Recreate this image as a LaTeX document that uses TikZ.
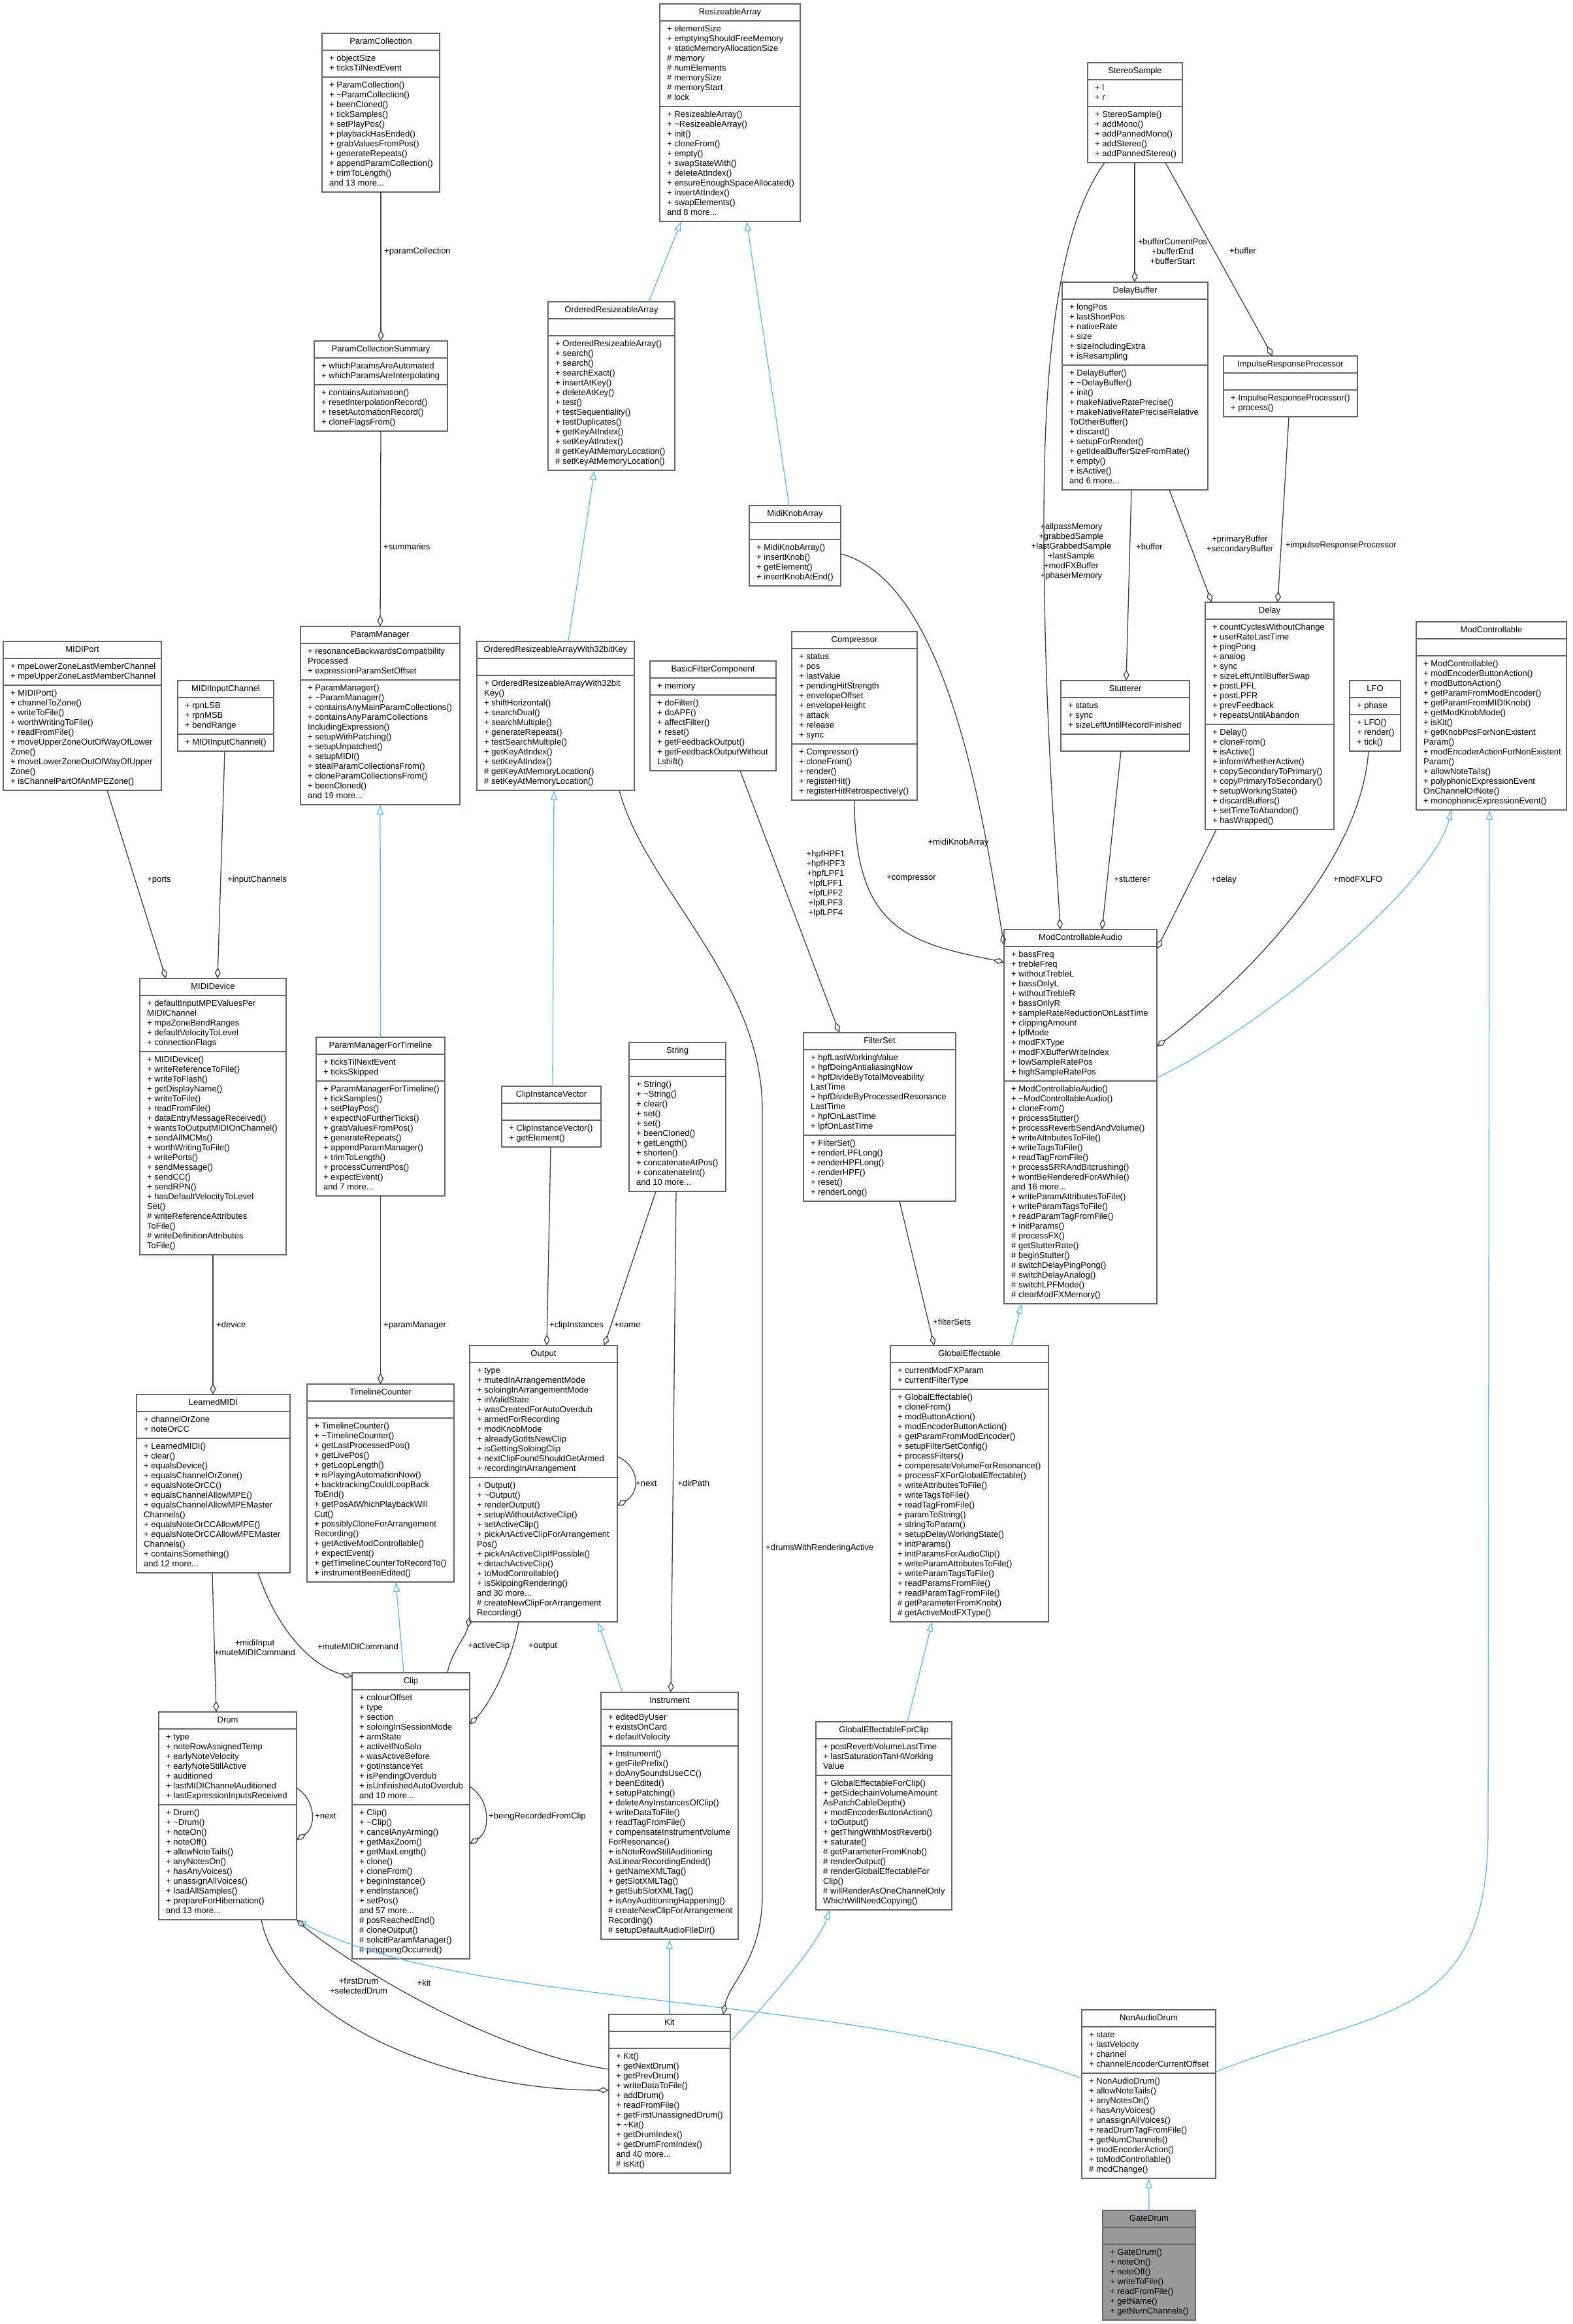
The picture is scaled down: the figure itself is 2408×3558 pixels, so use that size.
\documentclass[tikz,border=0pt]{standalone}
\usepackage{fontspec}
\setmainfont{Liberation Sans}
\usetikzlibrary{arrows.meta,calc}
\definecolor{boxborder}{HTML}{666666}
\definecolor{edgegray}{HTML}{404040}
\definecolor{inhblue}{HTML}{63B8FF}
\definecolor{gatefill}{HTML}{999999}
\newcommand{\tld}{\textasciitilde}
\tikzset{
 classbox/.style={draw=boxborder, line width=1.8pt, rectangle, inner sep=0pt, outer sep=0pt},
 sepline/.style={draw=boxborder, line width=1.8pt},
 titletext/.style={anchor=north, inner sep=0pt, font=\fontsize{13}{15}\selectfont},
 membertext/.style={anchor=north west, inner sep=0pt, align=left, font=\fontsize{13}{15}\selectfont},
 agg/.style={draw=edgegray, line width=1.3pt, -{Diamond[open, length=17pt, width=9pt, line width=1.3pt]}},
 inh/.style={draw=inhblue, line width=1.3pt, -{Triangle[open, length=15pt, width=10pt, line width=1.3pt]}},
 elabel/.style={inner sep=0pt, font=\fontsize{13}{15}\selectfont, align=center},
}
\newcommand{\umlclass}[9][white]{%
  \pgfmathsetmacro{\umlHa}{max(#6,1)*15+11}%
  \pgfmathsetmacro{\umlHm}{max(#8,1)*15+11}%
  \pgfmathsetmacro{\umlHt}{26+\umlHa+\umlHm}%
  \pgfmathsetmacro{\umlYs}{-26-\umlHa}%
  \pgfmathsetmacro{\umlYm}{-32-\umlHa}%
  \node[classbox, fill=#1, minimum width=#4pt, minimum height=\umlHt pt, anchor=north west] (#2) at #3 {};%
  \draw[sepline] ([yshift=-26pt]#2.north west) -- ([yshift=-26pt]#2.north east);%
  \draw[sepline] ([yshift=\umlYs pt]#2.north west) -- ([yshift=\umlYs pt]#2.north east);%
  \node[titletext] (#2-t) at ([yshift=-6pt]#2.north) {\strut #5};%
  \node[membertext] (#2-a) at ([xshift=11pt,yshift=-32pt]#2.north west) {\strut #7};%
  \node[membertext] (#2-m) at ([xshift=11pt,yshift=\umlYm pt]#2.north west) {\strut #9};%
}
\begin{document}
\begin{tikzpicture}[x=1pt,y=-1pt]
\fill[white] (0,0) rectangle (2408,3558);
\useasboundingbox (0,0) rectangle (2408,3558);

% ---------------- classes ----------------
\umlclass{pc}{(493,51)}{180}{ParamCollection}{2}{+ objectSize\\+ ticksTilNextEvent}{11}{+ ParamCollection()\\+ \tld ParamCollection()\\+ beenCloned()\\+ tickSamples()\\+ setPlayPos()\\+ playbackHasEnded()\\+ grabValuesFromPos()\\+ generateRepeats()\\+ appendParamCollection()\\+ trimToLength()\\and 13 more...}

\umlclass{pcs}{(481,522)}{204}{ParamCollectionSummary}{2}{+ whichParamsAreAutomated\\+ whichParamsAreInterpolating}{4}{+ containsAutomation()\\+ resetInterpolationRecord()\\+ resetAutomationRecord()\\+ cloneFlagsFrom()}

\umlclass{ra}{(1010,6)}{215}{ResizeableArray}{8}{+ elementSize\\+ emptyingShouldFreeMemory\\+ staticMemoryAllocationSize\\\# memory\\\# numElements\\\# memorySize\\\# memoryStart\\\# lock}{11}{+ ResizeableArray()\\+ \tld ResizeableArray()\\+ init()\\+ cloneFrom()\\+ empty()\\+ swapStateWith()\\+ deleteAtIndex()\\+ ensureEnoughSpaceAllocated()\\+ insertAtIndex()\\+ swapElements()\\and 8 more...}

\umlclass{ora}{(839,462)}{194}{OrderedResizeableArray}{0}{}{13}{+ OrderedResizeableArray()\\+ search()\\+ search()\\+ searchExact()\\+ insertAtKey()\\+ deleteAtKey()\\+ test()\\+ testSequentiality()\\+ testDuplicates()\\+ getKeyAtIndex()\\+ setKeyAtIndex()\\\# getKeyAtMemoryLocation()\\\# setKeyAtMemoryLocation()}

\umlclass{ss}{(1665,96)}{145}{StereoSample}{2}{+ l\\+ r}{5}{+ StereoSample()\\+ addMono()\\+ addPannedMono()\\+ addStereo()\\+ addPannedStereo()}

\umlclass{db}{(1626,432)}{223}{DelayBuffer}{6}{+ longPos\\+ lastShortPos\\+ nativeRate\\+ size\\+ sizeIncludingExtra\\+ isResampling}{12}{+ DelayBuffer()\\+ \tld DelayBuffer()\\+ init()\\+ makeNativeRatePrecise()\\+ makeNativeRatePreciseRelative\\ToOtherBuffer()\\+ discard()\\+ setupForRender()\\+ getIdealBufferSizeFromRate()\\+ empty()\\+ isActive()\\and 6 more...}

\umlclass{irp}{(1873,545)}{205}{ImpulseResponseProcessor}{0}{}{2}{+ ImpulseResponseProcessor()\\+ process()}

\umlclass{mka}{(1147,774)}{140}{MidiKnobArray}{0}{}{4}{+ MidiKnobArray()\\+ insertKnob()\\+ getElement()\\+ insertKnobAtEnd()}

\umlclass{mp}{(5,982)}{242}{MIDIPort}{2}{+ mpeLowerZoneLastMemberChannel\\+ mpeUpperZoneLastMemberChannel}{10}{+ MIDIPort()\\+ channelToZone()\\+ writeToFile()\\+ worthWritingToFile()\\+ readFromFile()\\+ moveUpperZoneOutOfWayOfLower\\Zone()\\+ moveLowerZoneOutOfWayOfUpper\\Zone()\\+ isChannelPartOfAnMPEZone()}

\umlclass{mic}{(272,1042)}{147}{MIDIInputChannel}{3}{+ rpnLSB\\+ rpnMSB\\+ bendRange}{1}{+ MIDIInputChannel()}

\umlclass{pm}{(460,959)}{244}{ParamManager}{3}{+ resonanceBackwardsCompatibility\\Processed\\+ expressionParamSetOffset}{12}{+ ParamManager()\\+ \tld ParamManager()\\+ containsAnyMainParamCollections()\\+ containsAnyParamCollections\\IncludingExpression()\\+ setupWithPatching()\\+ setupUnpatched()\\+ setupMIDI()\\+ stealParamCollectionsFrom()\\+ cloneParamCollectionsFrom()\\+ beenCloned()\\and 19 more...}

\umlclass{oraw}{(730,982)}{241}{OrderedResizeableArrayWith32bitKey}{0}{}{11}{+ OrderedResizeableArrayWith32bit\\Key()\\+ shiftHorizontal()\\+ searchDual()\\+ searchMultiple()\\+ generateRepeats()\\+ testSearchMultiple()\\+ getKeyAtIndex()\\+ setKeyAtIndex()\\\# getKeyAtMemoryLocation()\\\# setKeyAtMemoryLocation()}

\umlclass{bfc}{(995,1012)}{193}{BasicFilterComponent}{1}{+ memory}{7}{+ doFilter()\\+ doAPF()\\+ affectFilter()\\+ reset()\\+ getFeedbackOutput()\\+ getFeedbackOutputWithout\\Lshift()}

\umlclass{comp}{(1212,967)}{192}{Compressor}{9}{+ status\\+ pos\\+ lastValue\\+ pendingHitStrength\\+ envelopeOffset\\+ envelopeHeight\\+ attack\\+ release\\+ sync}{5}{+ Compressor()\\+ cloneFrom()\\+ render()\\+ registerHit()\\+ registerHitRetrospectively()}

\umlclass{stut}{(1624,1042)}{197}{Stutterer}{3}{+ status\\+ sync\\+ sizeLeftUntilRecordFinished}{0}{}

\umlclass{delay}{(1845,922)}{197}{Delay}{10}{+ countCyclesWithoutChange\\+ userRateLastTime\\+ pingPong\\+ analog\\+ sync\\+ sizeLeftUntilBufferSwap\\+ postLPFL\\+ postLPFR\\+ prevFeedback\\+ repeatsUntilAbandon}{10}{+ Delay()\\+ cloneFrom()\\+ isActive()\\+ informWhetherActive()\\+ copySecondaryToPrimary()\\+ copyPrimaryToSecondary()\\+ setupWorkingState()\\+ discardBuffers()\\+ setTimeToAbandon()\\+ hasWrapped()}

\umlclass{lfo}{(2066,1042)}{78}{LFO}{1}{+ phase}{3}{+ LFO()\\+ render()\\+ tick()}

\umlclass{mc}{(2168,952)}{230}{ModControllable}{0}{}{15}{+ ModControllable()\\+ modEncoderButtonAction()\\+ modButtonAction()\\+ getParamFromModEncoder()\\+ getParamFromMIDIKnob()\\+ getModKnobMode()\\+ isKit()\\+ getKnobPosForNonExistent\\Param()\\+ modEncoderActionForNonExistent\\Param()\\+ allowNoteTails()\\+ polyphonicExpressionEvent\\OnChannelOrNote()\\+ monophonicExpressionEvent()}

\umlclass{md}{(214,1498)}{224}{MIDIDevice}{5}{+ defaultInputMPEValuesPer\\MIDIChannel\\+ mpeZoneBendRanges\\+ defaultVelocityToLevel\\+ connectionFlags}{20}{+ MIDIDevice()\\+ writeReferenceToFile()\\+ writeToFlash()\\+ getDisplayName()\\+ writeToFile()\\+ readFromFile()\\+ dataEntryMessageReceived()\\+ wantsToOutputMIDIOnChannel()\\+ sendAllMCMs()\\+ worthWritingToFile()\\+ writePorts()\\+ sendMessage()\\+ sendCC()\\+ sendRPN()\\+ hasDefaultVelocityToLevel\\Set()\\\# writeReferenceAttributes\\ToFile()\\\# writeDefinitionAttributes\\ToFile()}

\umlclass{pmft}{(484,1588)}{197}{ParamManagerForTimeline}{2}{+ ticksTilNextEvent\\+ ticksSkipped}{11}{+ ParamManagerForTimeline()\\+ tickSamples()\\+ setPlayPos()\\+ expectNoFurtherTicks()\\+ grabValuesFromPos()\\+ generateRepeats()\\+ appendParamManager()\\+ trimToLength()\\+ processCurrentPos()\\+ expectEvent()\\and 7 more...}

\umlclass{civ}{(768,1663)}{152}{ClipInstanceVector}{0}{}{2}{+ ClipInstanceVector()\\+ getElement()}

\umlclass{str}{(963,1596)}{148}{String}{0}{}{11}{+ String()\\+ \tld String()\\+ clear()\\+ set()\\+ set()\\+ beenCloned()\\+ getLength()\\+ shorten()\\+ concatenateAtPos()\\+ concatenateInt()\\and 10 more...}

\umlclass{fs}{(1230,1581)}{233}{FilterSet}{8}{+ hpfLastWorkingValue\\+ hpfDoingAntialiasingNow\\+ hpfDivideByTotalMoveability\\LastTime\\+ hpfDivideByProcessedResonance\\LastTime\\+ hpfOnLastTime\\+ lpfOnLastTime}{6}{+ FilterSet()\\+ renderLPFLong()\\+ renderHPFLong()\\+ renderHPF()\\+ reset()\\+ renderLong()}

\umlclass{mca}{(1537,1423)}{234}{ModControllableAudio}{13}{+ bassFreq\\+ trebleFreq\\+ withoutTrebleL\\+ bassOnlyL\\+ withoutTrebleR\\+ bassOnlyR\\+ sampleRateReductionOnLastTime\\+ clippingAmount\\+ lpfMode\\+ modFXType\\+ modFXBufferWriteIndex\\+ lowSampleRatePos\\+ highSampleRatePos}{22}{+ ModControllableAudio()\\+ \tld ModControllableAudio()\\+ cloneFrom()\\+ processStutter()\\+ processReverbSendAndVolume()\\+ writeAttributesToFile()\\+ writeTagsToFile()\\+ readTagFromFile()\\+ processSRRAndBitcrushing()\\+ wontBeRenderedForAWhile()\\and 16 more...\\+ writeParamAttributesToFile()\\+ writeParamTagsToFile()\\+ readParamTagFromFile()\\+ initParams()\\\# processFX()\\\# getStutterRate()\\\# beginStutter()\\\# switchDelayPingPong()\\\# switchDelayAnalog()\\\# switchLPFMode()\\\# clearModFXMemory()}

\umlclass{lm}{(209,2135)}{235}{LearnedMIDI}{2}{+ channelOrZone\\+ noteOrCC}{13}{+ LearnedMIDI()\\+ clear()\\+ equalsDevice()\\+ equalsChannelOrZone()\\+ equalsNoteOrCC()\\+ equalsChannelAllowMPE()\\+ equalsChannelAllowMPEMaster\\Channels()\\+ equalsNoteOrCCAllowMPE()\\+ equalsNoteOrCCAllowMPEMaster\\Channels()\\+ containsSomething()\\and 12 more...}

\umlclass{tc}{(470,2119)}{225}{TimelineCounter}{0}{}{16}{+ TimelineCounter()\\+ \tld TimelineCounter()\\+ getLastProcessedPos()\\+ getLivePos()\\+ getLoopLength()\\+ isPlayingAutomationNow()\\+ backtrackingCouldLoopBack\\ToEnd()\\+ getPosAtWhichPlaybackWill\\Cut()\\+ possiblyCloneForArrangement\\Recording()\\+ getActiveModControllable()\\+ expectEvent()\\+ getTimelineCounterToRecordTo()\\+ instrumentBeenEdited()}

\umlclass{out}{(719,2060)}{226}{Output}{11}{+ type\\+ mutedInArrangementMode\\+ soloingInArrangementMode\\+ inValidState\\+ wasCreatedForAutoOverdub\\+ armedForRecording\\+ modKnobMode\\+ alreadyGotItsNewClip\\+ isGettingSoloingClip\\+ nextClipFoundShouldGetArmed\\+ recordingInArrangement}{14}{+ Output()\\+ \tld Output()\\+ renderOutput()\\+ setupWithoutActiveClip()\\+ setActiveClip()\\+ pickAnActiveClipForArrangement\\Pos()\\+ pickAnActiveClipIfPossible()\\+ detachActiveClip()\\+ toModControllable()\\+ isSkippingRendering()\\and 30 more...\\\# createNewClipForArrangement\\Recording()}

\umlclass{ge}{(1363,2060)}{242}{GlobalEffectable}{2}{+ currentModFXParam\\+ currentFilterType}{23}{+ GlobalEffectable()\\+ cloneFrom()\\+ modButtonAction()\\+ modEncoderButtonAction()\\+ getParamFromModEncoder()\\+ setupFilterSetConfig()\\+ processFilters()\\+ compensateVolumeForResonance()\\+ processFXForGlobalEffectable()\\+ writeAttributesToFile()\\+ writeTagsToFile()\\+ readTagFromFile()\\+ paramToString()\\+ stringToParam()\\+ setupDelayWorkingState()\\+ initParams()\\+ initParamsForAudioClip()\\+ writeParamAttributesToFile()\\+ writeParamTagsToFile()\\+ readParamsFromFile()\\+ readParamTagFromFile()\\\# getParameterFromKnob()\\\# getActiveModFXType()}

\umlclass{drum}{(243,2621)}{211}{Drum}{7}{+ type\\+ noteRowAssignedTemp\\+ earlyNoteVelocity\\+ earlyNoteStillActive\\+ auditioned\\+ lastMIDIChannelAuditioned\\+ lastExpressionInputsReceived}{11}{+ Drum()\\+ \tld Drum()\\+ noteOn()\\+ noteOff()\\+ allowNoteTails()\\+ anyNotesOn()\\+ hasAnyVoices()\\+ unassignAllVoices()\\+ loadAllSamples()\\+ prepareForHibernation()\\and 13 more...}

\umlclass{clip}{(539,2561)}{180}{Clip}{11}{+ colourOffset\\+ type\\+ section\\+ soloingInSessionMode\\+ armState\\+ activeIfNoSolo\\+ wasActiveBefore\\+ gotInstanceYet\\+ isPendingOverdub\\+ isUnfinishedAutoOverdub\\and 10 more...}{15}{+ Clip()\\+ \tld Clip()\\+ cancelAnyArming()\\+ getMaxZoom()\\+ getMaxLength()\\+ clone()\\+ cloneFrom()\\+ beginInstance()\\+ endInstance()\\+ setPos()\\and 57 more...\\\# posReachedEnd()\\\# cloneOutput()\\\# solicitParamManager()\\\# pingpongOccurred()}

\umlclass{inst}{(920,2591)}{210}{Instrument}{3}{+ editedByUser\\+ existsOnCard\\+ defaultVelocity}{19}{+ Instrument()\\+ getFilePrefix()\\+ doAnySoundsUseCC()\\+ beenEdited()\\+ setupPatching()\\+ deleteAnyInstancesOfClip()\\+ writeDataToFile()\\+ readTagFromFile()\\+ compensateInstrumentVolume\\ForResonance()\\+ isNoteRowStillAuditioning\\AsLinearRecordingEnded()\\+ getNameXMLTag()\\+ getSlotXMLTag()\\+ getSubSlotXMLTag()\\+ isAnyAuditioningHappening()\\\# createNewClipForArrangement\\Recording()\\\# setupDefaultAudioFileDir()}

\umlclass{gefc}{(1249,2636)}{208}{GlobalEffectableForClip}{3}{+ postReverbVolumeLastTime\\+ lastSaturationTanHWorking\\Value}{13}{+ GlobalEffectableForClip()\\+ getSidechainVolumeAmount\\AsPatchCableDepth()\\+ modEncoderButtonAction()\\+ toOutput()\\+ getThingWithMostReverb()\\+ saturate()\\\# getParameterFromKnob()\\\# renderOutput()\\\# renderGlobalEffectableFor\\Clip()\\\# willRenderAsOneChannelOnly\\WhichWillNeedCopying()}

\umlclass{kit}{(932,3084)}{186}{Kit}{0}{}{12}{+ Kit()\\+ getNextDrum()\\+ getPrevDrum()\\+ writeDataToFile()\\+ addDrum()\\+ readFromFile()\\+ getFirstUnassignedDrum()\\+ \tld Kit()\\+ getDrumIndex()\\+ getDrumFromIndex()\\and 40 more...\\\# isKit()}

\umlclass{nad}{(1656,3077)}{205}{NonAudioDrum}{4}{+ state\\+ lastVelocity\\+ channel\\+ channelEncoderCurrentOffset}{10}{+ NonAudioDrum()\\+ allowNoteTails()\\+ anyNotesOn()\\+ hasAnyVoices()\\+ unassignAllVoices()\\+ readDrumTagFromFile()\\+ getNumChannels()\\+ modEncoderAction()\\+ toModControllable()\\\# modChange()}

\umlclass[gatefill]{gd}{(1688,3384)}{142}{GateDrum}{0}{}{7}{+ GateDrum()\\+ noteOn()\\+ noteOff()\\+ writeToFile()\\+ readFromFile()\\+ getName()\\+ getNumChannels()}

% ---------------- waypoints ----------------
\coordinate (w1) at (1167,1700);
\coordinate (w1b) at (1167,2900);
\coordinate (w2) at (1598,800);
\coordinate (w4) at (2278,2800);

% ---------------- inheritance ----------------
\draw[inh] ([xshift=154pt]ora.north west) -- ([xshift=33pt]ra.south west);
\draw[inh] ([xshift=61pt]mka.north west) -- ([xshift=133pt]ra.south west);
\draw[inh] ([xshift=140pt]oraw.north west) -- ([xshift=71pt]ora.south west);
\draw[inh] (pmft.north) -- (pm.south);
\draw[inh] ([xshift=78pt]civ.north west) -- ([xshift=118pt]oraw.south west);
\draw[inh] ([yshift=-227pt]mca.north east) .. controls +(150pt,70pt) and +(-30pt,-120pt) .. ([xshift=54pt]mc.south west);
\draw[inh] ([yshift=-95pt]nad.north east) .. controls +(250pt,100pt) and +(0pt,-300pt) .. (w4) -- ([xshift=112pt]mc.south west);
\draw[inh] ([xshift=185pt]ge.north west) -- ([xshift=27pt]mca.south west);
\draw[inh] ([xshift=140pt]gefc.north west) -- ([xshift=64pt]ge.south west);
\draw[inh] ([xshift=33pt]inst.north west) -- ([xshift=196pt]out.south west);
\draw[inh] ([xshift=79pt]clip.north west) -- ([xshift=136pt]tc.south west);
\draw[inh] (kit.north) -- (inst.south);
\draw[inh] ([yshift=-41pt]kit.north east) .. controls +(30pt,30pt) and +(-20pt,-60pt) .. ([xshift=21pt]gefc.south west);
\draw[inh] ([yshift=-105pt]nad.north west) .. controls +(-350pt,130pt) and +(250pt,-136pt) .. (drum.south east);
\draw[inh] (gd.north) -- (nad.south);

% ---------------- aggregation ----------------
\draw[agg] (pc.south) -- (pcs.north);
\node[elabel, anchor=west] (l-pc) at (588,385) {\strut+paramCollection};
\draw[agg] (pcs.south) -- (pm.north);
\node[elabel, anchor=west] (l-sum) at (587,838) {\strut+summaries};

\draw[agg] ([xshift=159pt]mp.south west) -- ([xshift=40pt]md.north west);
\node[elabel, anchor=west] (l-ports) at (225,1347) {\strut+ports};
\draw[agg] ([xshift=72pt]mic.south west) -- ([xshift=119pt]md.north west);
\node[elabel, anchor=west] (l-ic) at (348,1347) {\strut+inputChannels};
\draw[agg] ([xshift=112pt]md.south west) -- ([xshift=117pt]lm.north west);
\node[elabel, anchor=west] (l-dev) at (331,2029) {\strut+device};
\draw[agg] (pmft.south) -- (tc.north);
\node[elabel, anchor=west] (l-pmg) at (587,2029) {\strut+paramManager};
\draw[agg] ([xshift=75pt]civ.south west) -- ([xshift=118pt]out.north west);
\node[elabel, anchor=west] (l-ci) at (841,2029) {\strut+clipInstances};
\draw[agg] ([xshift=41pt]str.south west) -- ([xshift=206pt]out.north west);
\node[elabel, anchor=west] (l-name) at (940,2029) {\strut+name};
\draw[agg] ([yshift=-170pt]out.north east) .. controls +(35pt,-15pt) and +(35pt,20pt) .. ([yshift=-245pt]out.north east);
\node[elabel, anchor=west] (l-onext) at (973,2272) {\strut+next};
\draw[agg] ([xshift=72pt]str.south west) -- ([xshift=107pt]inst.north west);
\node[elabel, anchor=west] (l-dir) at (1037,2272) {\strut+dirPath};

\draw[agg] ([xshift=116pt]lm.south west) -- ([xshift=88pt]drum.north west);
\node[elabel] (l-mi) at (390,2522) {+midiInput\\+muteMIDICommand};
\draw[agg] ([xshift=186pt]lm.south west) .. controls +(30pt,-90pt) and +(-60pt,15pt) .. ([yshift=-6pt]clip.north west);
\node[elabel] (l-mute) at (548,2522) {\strut+muteMIDICommand};
\draw[agg] ([xshift=146pt]clip.north west) .. controls +(5pt,30pt) and +(-5pt,-30pt) .. ([yshift=8pt]out.south west);
\node[elabel, anchor=west] (l-ac) at (716,2520) {\strut+activeClip};
\draw[agg] ([xshift=75pt]out.south west) .. controls +(-10pt,-60pt) and +(30pt,30pt) .. ([yshift=-79pt]clip.north east);
\node[elabel, anchor=west] (l-out) at (809,2520) {\strut+output};
\draw[agg] ([yshift=-174pt]clip.north east) .. controls +(32pt,-20pt) and +(32pt,20pt) .. ([yshift=-262pt]clip.north east);
\node[elabel, anchor=west] (l-brfc) at (748,2781) {\strut+beingRecordedFromClip};
\draw[agg] ([yshift=-116pt]drum.north east) .. controls +(30pt,-20pt) and +(30pt,20pt) .. ([yshift=-196pt]drum.north east);
\node[elabel, anchor=west] (l-dnext) at (482,2781) {\strut+next};

\draw[agg] ([yshift=-84pt]kit.north west) .. controls +(-200pt,30pt) and +(50pt,-45pt) .. (drum.south east);
\node[elabel] (l-kit) at (649,3037) {\strut+kit};
\draw[agg] ([xshift=157pt]drum.south west) .. controls +(30pt,-150pt) and +(-250pt,0pt) .. ([yshift=-116pt]kit.north west);
\node[elabel] (l-fd) at (549,3040) {+firstDrum\\+selectedDrum};
\draw[agg] ([xshift=-23pt]oraw.south east) .. controls +(40pt,-150pt) and +(0pt,200pt) .. (w1) -- (w1b) .. controls +(0pt,-100pt) and +(10pt,50pt) .. ([xshift=-11pt]kit.north east);
\node[elabel, anchor=west] (l-dwra) at (1172,2370) {\strut+drumsWithRenderingActive};

\draw[agg] ([xshift=26pt]ss.south west) .. controls +(-80pt,-110pt) and +(0pt,200pt) .. (w2) .. controls +(0pt,-300pt) and +(-5pt,100pt) .. ([xshift=86pt]mca.north west);
\node[elabel] (l-ap) at (1640,845) {+allpassMemory\\+grabbedSample\\+lastGrabbedSample\\+lastSample\\+modFXBuffer\\+phaserMemory};
\draw[agg] ([xshift=72pt]ss.north west |- ss.south) -- ([xshift=111pt]db.north west);
\node[elabel] (l-bcp) at (1795,385) {+bufferCurrentPos\\+bufferEnd\\+bufferStart};
\draw[agg] ([xshift=119pt]ss.south west) -- ([xshift=75pt]irp.north west);
\node[elabel, anchor=west] (l-buf1) at (1882,385) {\strut+buffer};
\draw[agg] ([xshift=106pt]db.south west) -- ([xshift=100pt]stut.north west);
\node[elabel, anchor=west] (l-buf2) at (1739,838) {\strut+buffer};
\draw[agg] ([xshift=164pt]db.south west) -- ([xshift=10pt]delay.north west);
\node[elabel] (l-pb) at (1898,834) {+primaryBuffer\\+secondaryBuffer};
\draw[agg] ([xshift=100pt]irp.south west) -- ([xshift=111pt]delay.north west);
\node[elabel, anchor=west] (l-irp) at (1968,835) {\strut+impulseResponseProcessor};
\draw[agg] ([xshift=92pt]stut.south west) -- ([xshift=150pt]mca.north west);
\node[elabel, anchor=west] (l-stut) at (1705,1347) {\strut+stutterer};
\draw[agg] ([xshift=17pt]delay.south west) -- ([yshift=-30pt]mca.north east);
\node[elabel, anchor=west] (l-delay) at (1854,1347) {\strut+delay};
\draw[agg] ([xshift=29pt]lfo.south west) .. controls +(-15pt,-200pt) and +(80pt,60pt) .. ([yshift=-179pt]mca.north east);
\node[elabel, anchor=west] (l-lfo) at (2041,1347) {\strut+modFXLFO};
\draw[agg] ([yshift=-74pt]mka.north east) .. controls +(163pt,-42pt) and +(-32pt,197pt) .. ([yshift=-24pt]mca.north west);
\node[elabel] (l-mka) at (1467,1290) {\strut+midiKnobArray};
\draw[agg] ([xshift=96pt]comp.south west) .. controls +(0pt,-195pt) and +(-150pt,30pt) .. ([yshift=-50pt]mca.north west);
\node[elabel] (l-comp) at (1395,1344) {\strut+compressor};
\draw[agg] ([xshift=138pt]bfc.south west) -- ([xshift=55pt]fs.north west);
\node[elabel] (l-hpf) at (1264,1353) {+hpfHPF1\\+hpfHPF3\\+hpfLPF1\\+lpfLPF1\\+lpfLPF2\\+lpfLPF3\\+lpfLPF4};
\draw[agg] ([xshift=147pt]fs.south west) -- ([xshift=67pt]ge.north west);
\node[elabel, anchor=west] (l-fs) at (1428,2025) {\strut+filterSets};
\end{tikzpicture}
\end{document}
